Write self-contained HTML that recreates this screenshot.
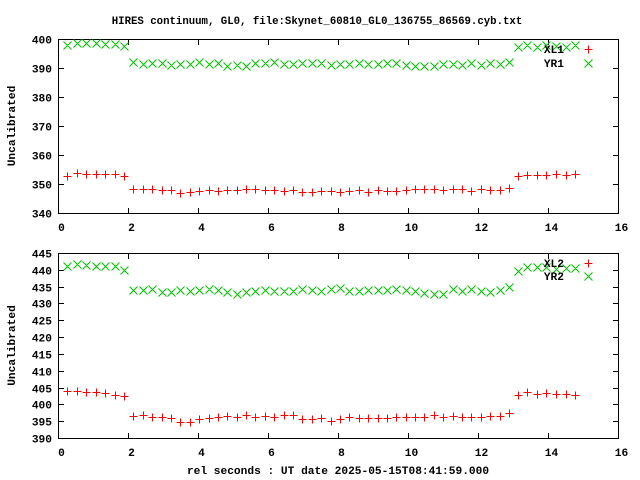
<!DOCTYPE html>
<html><head><meta charset="utf-8"><style>
body{margin:0;background:#fff;}
svg{display:block;font-family:"Liberation Mono",monospace;font-weight:bold;font-size:11.2px;}
</style></head><body>
<svg id="chart" width="640" height="480" xmlns="http://www.w3.org/2000/svg">
<text x="317" y="24" text-anchor="middle" style="font-size:10.7px">HIRES continuum, GL0, file:Skynet_60810_GL0_136755_86569.cyb.txt</text>
<text x="338" y="474" text-anchor="middle">rel seconds : UT date 2025-05-15T08:41:59.000</text>
</svg>
<script>
const times = [0.27,0.54,0.81,1.08,1.35,1.62,1.89,
2.15,2.42,2.69,2.96,3.22,3.49,3.76,4.03,4.30,4.57,4.84,5.10,5.37,5.64,5.91,6.18,6.45,6.71,6.98,7.25,7.52,7.79,8.06,8.32,8.59,8.86,9.13,9.40,9.67,9.93,10.20,10.47,10.74,11.01,11.28,11.55,11.81,12.08,12.35,12.62,12.89,
13.13,13.40,13.68,13.95,14.22,14.50,14.77];
const xl1 = [352.9,353.7,353.3,353.3,353.3,353.3,352.8,
348.2,348.2,348.2,347.8,347.8,346.8,347.1,347.5,347.8,347.5,347.8,347.8,348.2,348.2,347.8,347.8,347.5,347.8,347.1,347.1,347.5,347.5,347.1,
347.5,347.8,347.1,347.8,347.5,347.5,347.8,348.2,348.2,348.2,347.8,348.2,348.2,347.5,348.2,347.8,347.8,348.5,
352.9,353.1,353.1,353.1,353.4,353.1,353.4];
const yr1 = [397.9,398.5,398.5,398.5,398.2,398.2,397.6,
392.0,391.3,391.6,391.6,390.9,391.3,391.3,392.0,391.3,391.6,390.7,391.0,390.7,391.6,391.6,392.0,391.3,391.3,391.6,391.6,391.6,390.9,391.3,
391.3,391.6,391.3,391.3,391.6,391.6,390.9,390.7,390.7,390.7,391.3,391.3,390.9,391.6,390.9,391.6,391.3,392.2,
397.1,397.9,397.4,397.9,397.6,397.1,397.9];
const xl2 = [403.9,403.9,403.7,403.7,403.4,402.9,402.6,
396.6,396.9,396.2,396.2,396.0,394.9,394.9,395.7,396.0,396.2,396.6,396.2,396.9,396.2,396.6,396.2,396.9,396.9,395.7,395.7,396.0,395.2,395.7,
396.2,396.0,396.0,396.0,396.0,396.2,396.2,396.2,396.2,396.9,396.2,396.6,396.2,396.2,396.2,396.6,396.6,397.4,
402.9,403.7,403.1,403.4,403.2,403.2,402.9];
const yr2 = [441.2,441.7,441.5,441.2,441.2,441.0,440.0,
434.1,434.1,434.4,433.5,433.5,434.1,433.8,434.1,434.4,434.1,433.5,432.9,433.5,433.8,434.1,433.8,433.8,433.8,434.4,434.1,433.8,434.4,434.7,
433.8,433.8,434.1,434.1,434.1,434.4,434.1,433.8,433.2,432.9,432.9,434.4,433.8,434.4,433.8,433.5,434.1,434.9,
439.7,440.7,440.7,440.7,440.2,440.5,440.5];
const xTicks = [0,2,4,6,8,10,12,14,16];
const yTicksTop = [340,350,360,370,380,390,400];
const yTicksBot = [390,395,400,405,410,415,420,425,430,435,440,445];

const svg = document.getElementById('chart');
const NS = 'http://www.w3.org/2000/svg';
function mk(tag, attrs, parent){
  const e = document.createElementNS(NS, tag);
  for (const k in attrs) e.setAttribute(k, attrs[k]);
  (parent||svg).appendChild(e);
  return e;
}
const X0 = 58, X1 = 618;
function sx(t){ return X0 + (t - 0) / 16 * (X1 - X0); }

function panel(id, top, bot, ymin, ymax, yTicks, s1, s2, n1, n2, legY1, legY2){
  const g = mk('g', {});
  
  
  const sy = v => bot - (v - ymin) / (ymax - ymin) * (bot - top);
  const frame = mk('rect', {x:X0+0.5, y:top+0.5, width:X1-X0, height:bot-top, fill:'none', stroke:'#000', 'stroke-width':1}, g);
  
  
  xTicks.forEach(t => {
    const x = Math.round(sx(t)) + 0.5;
    const tk = mk('path', {d:`M${x},${bot}v-5M${x},${top+1}v5`, stroke:'#000'}, g);
    
    
    const lb = mk('text', {x:x+3, y:bot+18, 'text-anchor':'middle'}, g);
    lb.textContent = t;
    
    
  });
  yTicks.forEach(v => {
    const y = Math.round(sy(v)) + 0.5;
    const tk = mk('path', {d:`M${X0+1},${y}h5M${X1},${y}h-5`, stroke:'#000'}, g);
    
    
    const lb = mk('text', {x:52, y:y+4, 'text-anchor':'end'}, g);
    lb.textContent = v;
    
    
  });
  const yl = mk('text', {x:0, y:0, transform:`translate(15,${(top+bot)/2}) rotate(-90)`, 'text-anchor':'middle'}, g);
  yl.textContent = 'Uncalibrated';
  
  
  const plus = (x,y)=>`M${x-4},${y}h8M${x},${y-4}v8`;
  const cross = (x,y)=>`M${x-4},${y-4}l8,8M${x-4},${y+4}l8,-8`;
  let d1='', d2='';
  times.forEach((t,i)=>{
    const x = Math.round(sx(t))+0.5;
    d1 += plus(x, Math.round(sy(s1[i]))+0.5);
    d2 += cross(x, Math.round(sy(s2[i]))+0.5);
  });
  const p2 = mk('path', {d:d2, stroke:'#00c000', fill:'none'}, g);
  
  
  const p1 = mk('path', {d:d1, stroke:'#ff0000', fill:'none'}, g);
  
  
  const l1 = mk('text', {x:564, y:legY1+4, 'text-anchor':'end'}, g);
  l1.textContent = n1;
  
  
  const m1 = mk('path', {d:plus(588.5, legY1+0.5), stroke:'#ff0000'}, g);
  
  
  const l2 = mk('text', {x:564, y:legY2+4, 'text-anchor':'end'}, g);
  l2.textContent = n2;
  
  
  const m2 = mk('path', {d:cross(588.5, legY2+0.5), stroke:'#00c000'}, g);
  
  
}
panel('top', 39, 213, 340, 400, yTicksTop, xl1, yr1, 'XL1', 'YR1', 49, 63);
panel('bottom', 253, 438, 390, 445, yTicksBot, xl2, yr2, 'XL2', 'YR2', 263, 276);
</script>
</body></html>
